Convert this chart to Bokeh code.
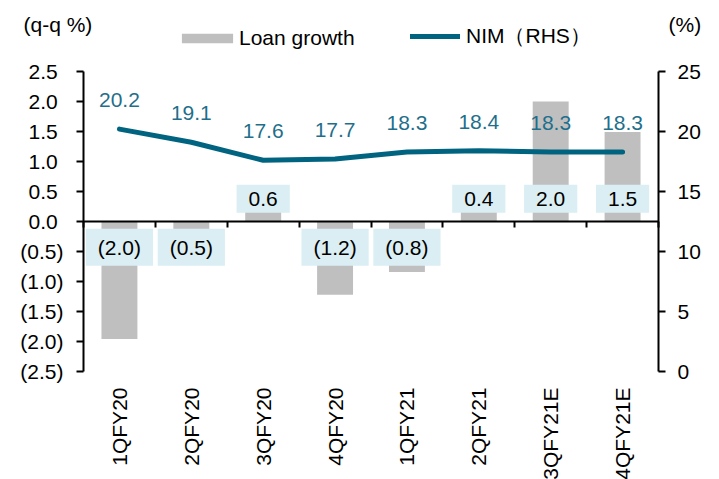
import math
from bokeh.plotting import figure
from bokeh.models import (Range1d, LinearAxis, FixedTicker, Legend,
                          LegendItem, Label, ColumnDataSource, LinearScale)
from bokeh.core.properties import value
from bokeh.embed import file_html
from bokeh.resources import INLINE

categories = ["1QFY20", "2QFY20", "3QFY20", "4QFY20", "1QFY21", "2QFY21", "3QFY21E", "4QFY21E"]
loan_growth = [-1.96, -0.5, 0.6, -1.22, -0.84, 0.4, 2.0, 1.49]
nim = [20.2, 19.1, 17.6, 17.7, 18.3, 18.4, 18.3, 18.3]
left_ticks = [-2.5, -2.0, -1.5, -1.0, -0.5, 0.0, 0.5, 1.0, 1.5, 2.0, 2.5]
right_ticks = [0, 5, 10, 15, 20, 25]

FONT = "Liberation Sans"
FS = "21px"
BAR = "#BFBFBF"
LINE = "#006480"
NIMTXT = "#1F6F8B"
BOX = "#DAEEF3"

# canvas / plot-area geometry (pixels)
W, H = 719, 479
PL, PR, PT, PB = 83, 658, 71, 371

n = len(categories)
centers = [i + 0.5 for i in range(n)]
L_MIN, L_MAX = left_ticks[0], left_ticks[-1]
R_MIN, R_MAX = right_ticks[0], right_ticks[-1]

xu = (PR - PL) / n
x0 = -PL / xu
x1 = n + (W - PR) / xu
lu = (PB - PT) / (L_MAX - L_MIN)
ly0 = L_MIN - (H - PB) / lu
ly1 = L_MAX + PT / lu
ru = (PB - PT) / (R_MAX - R_MIN)
ry0 = R_MIN - (H - PB) / ru
ry1 = R_MAX + PT / ru


def fmt(v):
    return f"({abs(v):.1f})" if v < 0 else f"{v:.1f}"


src = ColumnDataSource(dict(
    x=centers,
    loan=loan_growth,
    loan_lab=[fmt(v) for v in loan_growth],
    loan_y=[0.38 if v >= 0 else -0.43 for v in loan_growth],
    nim=nim,
    nim_lab=[f"{v:.1f}" for v in nim],
))

p = figure(width=W, height=H, output_backend="svg", toolbar_location=None,
           x_range=Range1d(x0, x1), y_range=Range1d(ly0, ly1), title=None,
           min_border_left=0, min_border_right=0, min_border_top=0, min_border_bottom=0,
           x_axis_location=None, y_axis_location=None)
p.extra_y_ranges = {"nim": Range1d(ry0, ry1)}
p.extra_y_scales = {"nim": LinearScale()}
p.outline_line_color = None
p.grid.visible = False
p.background_fill_color = "white"
p.border_fill_color = "white"

# bars
bars = p.vbar(x="x", top="loan", bottom=0, width=0.5, source=src,
              fill_color=BAR, line_color=None)

# NIM line
nim_line = p.line(x="x", y="nim", source=src, y_range_name="nim",
                  line_color=LINE, line_width=5, line_cap="round", line_join="round")

# NIM labels
p.text(x="x", y="nim", text="nim_lab", source=src, y_range_name="nim",
       y_offset=-29, text_align="center", text_baseline="middle",
       text_font=value(FONT), text_font_size=FS, text_color=NIMTXT)

# loan growth labels in boxes
p.text(x="x", y="loan_y", text="loan_lab", source=src,
       text_align="center", text_baseline="middle",
       text_font=value(FONT), text_font_size=FS, text_color="#000000",
       background_fill_color=BOX,
       padding=dict(left=12, right=12, top=7, bottom=7))


def style(ax):
    ax.minor_tick_line_color = None
    ax.major_tick_in = 0
    ax.axis_line_width = 2
    ax.major_tick_line_width = 2
    ax.axis_line_color = "black"
    ax.major_tick_line_color = "black"
    ax.major_label_text_font = FONT
    ax.major_label_text_font_size = FS
    ax.major_label_text_color = "black"


# left axis
ya = LinearAxis(ticker=FixedTicker(ticks=left_ticks), fixed_location=0, bounds=(L_MIN, L_MAX))
style(ya)
ya.major_label_overrides = {t: (f"({abs(t):.1f})" if t < 0 else f"{t:.1f}\u2008") for t in left_ticks}
ya.major_tick_out = 7
ya.major_label_standoff = 13
p.add_layout(ya, "left")

# right axis
ra = LinearAxis(y_range_name="nim", ticker=FixedTicker(ticks=right_ticks),
                fixed_location=n, bounds=(R_MIN, R_MAX))
style(ra)
ra.major_tick_out = 7
ra.major_label_standoff = 12
p.add_layout(ra, "right")

# category label axis at bottom
xa = LinearAxis(ticker=FixedTicker(ticks=centers), fixed_location=L_MIN)
style(xa)
xa.major_label_overrides = {c: name for c, name in zip(centers, categories)}
xa.axis_line_color = None
xa.major_tick_line_color = None
xa.major_tick_out = 0
xa.major_label_orientation = math.pi / 2
xa.major_label_standoff = 16
p.add_layout(xa, "below")

# zero line axis with ticks at category boundaries
za = LinearAxis(ticker=FixedTicker(ticks=list(range(n + 1))), fixed_location=0, bounds=(0, n))
style(za)
za.major_label_overrides = {i: "" for i in range(n + 1)}
za.major_tick_out = 6
p.add_layout(za, "below")

# legends
common = dict(orientation="horizontal", padding=0, spacing=0, margin=0,
              border_line_color=None, background_fill_alpha=0,
              label_text_font=FONT, label_text_font_size=FS, label_text_color="black",
              label_height=24)
leg1 = Legend(items=[LegendItem(label="Loan growth", renderers=[bars])],
              location=(175, H - 50), glyph_width=64, glyph_height=12, label_standoff=0, **common)
leg2 = Legend(items=[LegendItem(label="NIM（RHS）", renderers=[nim_line])],
              location=(410, H - 50), glyph_width=50, glyph_height=24, label_standoff=6, **common)
p.add_layout(leg1, "center")
p.add_layout(leg2, "center")

# axis titles
p.add_layout(Label(x=23, y=H - 24, x_units="screen", y_units="screen", text="(q-q %)",
                   text_font=FONT, text_font_size=FS, text_color="black",
                   text_baseline="middle", text_align="left"))
p.add_layout(Label(x=668, y=H - 24, x_units="screen", y_units="screen", text="(%)",
                   text_font=FONT, text_font_size=FS, text_color="black",
                   text_baseline="middle", text_align="left"))

open("out.html", "w").write(file_html(p, INLINE))
